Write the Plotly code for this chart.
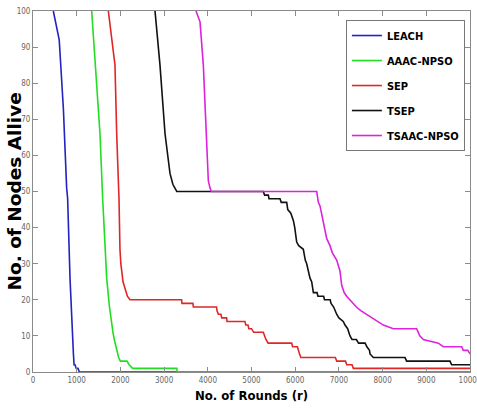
import plotly.graph_objects as go

# ---- data ----
series_names = ["LEACH", "AAAC-NPSO", "SEP", "TSEP", "TSAAC-NPSO"]
series_colors = ["#2323c0", "#22dd22", "#e02626", "#111111", "#dd22dd"]

leach_x = [465, 580, 600, 640, 695, 770, 793, 847, 880, 908, 925, 940, 960, 990, 1030, 1060, 10000]
leach_y = [100, 93, 92, 84, 73, 51, 48, 26, 15, 6, 5, 2, 2, 1, 1, 0, 0]

aaac_x = [1343, 1400, 1457, 1470, 1533, 1594, 1650, 1686, 1750, 1800, 1830, 1860, 1900, 1930, 1960, 2000,
          2150, 2200, 2280, 3290, 3300, 10000]
aaac_y = [100, 90, 80, 79, 66, 48, 35, 26, 18, 13, 11, 9, 7, 5, 4, 3, 3, 2, 1, 1, 0, 0]

sep_x = [1724, 1760, 1790, 1876, 1915, 1968, 1990, 2010, 2060, 2105, 2160, 2220, 3400, 3410, 3660, 3670,
         4200, 4210, 4240, 4300, 4320, 4430, 4440, 4850, 4870, 4920, 4940, 5000, 5050, 5270, 5300, 5330,
         5380, 5920, 5940, 6050, 6100, 6130, 6920, 6950, 7150, 7180, 7300, 7330, 10000]
sep_y = [100, 96, 93, 85, 66, 48, 34, 30, 25, 23, 21, 20, 20, 19, 19, 18,
         18, 17, 16, 16, 15, 15, 14, 14, 13, 13, 12, 12, 11, 11, 10, 9,
         8, 8, 7, 7, 5, 4, 4, 3, 3, 2, 2, 1, 1]

tsep_x = [2792, 2850, 2906, 3021, 3080, 3135, 3200, 3290, 5270, 5300, 5385, 5400, 5652, 5680, 5805, 5830,
          5900, 5957, 5990, 6034, 6080, 6186, 6230, 6263, 6339, 6377, 6416, 6500, 6520, 6650, 6670, 6800,
          6820, 6880, 6949, 7000, 7100, 7140, 7200, 7254, 7300, 7400, 7450, 7600, 7640, 7700, 7712, 7788,
          8513, 8550, 9542, 9580, 10000]
tsep_y = [100, 93, 85, 66, 60, 55, 52, 50, 50, 49, 49, 48, 48, 47, 47, 45,
          44, 42, 40, 36, 35, 34, 31, 30, 26, 25, 22, 22, 21, 21, 20, 20,
          19, 18, 16, 15, 14, 13, 12, 10, 9, 9, 8, 8, 7, 6, 5, 4,
          4, 3, 3, 2, 2]

tsaac_x = [3730, 3822, 3898, 3959, 4012, 4050, 4080, 6492, 6530, 6568, 6620, 6682, 6720, 6796, 6850, 6949,
           6990, 7025, 7064, 7120, 7178, 7250, 7330, 7400, 7500, 7636, 7750, 7900, 8017, 8245, 8780, 8850,
           8932, 9275, 9390, 9810, 9847, 9950, 10000]
tsaac_y = [100, 97, 85, 66, 53, 51, 50, 50, 47, 46, 43, 40, 37, 35, 33, 31,
           29, 28, 24, 22, 21, 20, 19, 18, 17, 16, 15, 14, 13, 12, 12, 10,
           9, 8, 7, 7, 6, 6, 5]

x_ticks = list(range(0, 10001, 1000))
y_ticks = list(range(0, 101, 10))

xs = [leach_x, aaac_x, sep_x, tsep_x, tsaac_x]
ys = [leach_y, aaac_y, sep_y, tsep_y, tsaac_y]

fig = go.Figure()
for i, (name, color) in enumerate(zip(series_names, series_colors)):
    fig.add_trace(go.Scatter(
        x=xs[i], y=ys[i], mode="lines", name=name, legendgroup=name,
        line=dict(color=color, width=1.6),
    ))

axis_common = dict(
    showgrid=False, zeroline=False, showline=True, linecolor="#8a8a8a", linewidth=1,
    mirror="ticks", ticks="inside", ticklen=5, tickcolor="#8a8a8a",
    ticklabeloverflow="allow", automargin=False,
    tickfont=dict(family="DejaVu Sans Condensed, Liberation Sans", size=8, color="#666666"),
)

fig.update_layout(
    width=477, height=411,
    paper_bgcolor="white", plot_bgcolor="white",
    margin=dict(l=33, r=7, t=11, b=39, autoexpand=False),
    xaxis=dict(range=[0, 10000], tickvals=x_ticks, ticktext=[str(v) for v in x_ticks], **axis_common),
    yaxis=dict(range=[0, 100], tickvals=y_ticks, ticktext=[str(v) for v in y_ticks], **axis_common),
    legend=dict(
        x=0.716, y=0.975, xanchor="left", yanchor="top",
        bgcolor="white", bordercolor="#777777", borderwidth=1,
        font=dict(family="DejaVu Sans Condensed, Roboto", size=11, color="black", weight="bold"),
        traceorder="grouped", tracegroupgap=6, itemwidth=30,
    ),
    showlegend=True,
    annotations=[
        dict(text="<b>No. of Rounds (r)</b>", xref="paper", yref="paper", x=0.5, y=0,
             xanchor="center", yanchor="top", yshift=-14, showarrow=False,
             font=dict(family="DejaVu Sans Condensed, Roboto", size=13, color="black")),
        dict(text="<b>No. of Nodes Allive</b>", xref="paper", yref="paper", x=0, y=0.5,
             xanchor="center", yanchor="middle", xshift=-19, showarrow=False, textangle=-90,
             font=dict(family="DejaVu Sans", size=18.5, color="black")),
    ],
)

# remove the default 8px page margin so the figure fills the window
fig.write_html("out.html", config={"displayModeBar": False},
               post_script="document.body.style.margin='0px';")
